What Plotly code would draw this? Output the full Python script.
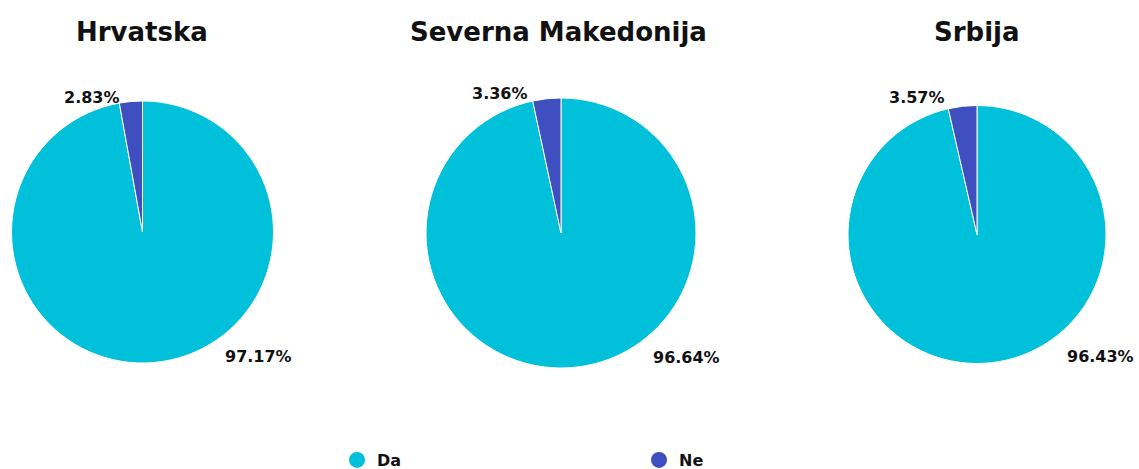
import plotly.graph_objects as go

countries = ["Hrvatska", "Severna Makedonija", "Srbija"]
labels = ["Da", "Ne"]
da_values = [97.17, 96.64, 96.43]
ne_values = [2.83, 3.36, 3.57]
colors = ["#00c0da", "#3f4fbf"]

W, H = 1139, 469
# pie geometry in pixels: (center x, center y, radius)
geoms = [(142.5, 232, 131), (561, 233, 135), (977, 234.5, 129)]
title_x = [141.5, 558, 977]
# label positions (px) for Ne (small) and Da (large)
ne_pos = [(92, 97), (500, 94), (917, 98)]
da_pos = [(258, 356), (686, 357), (1100, 356)]

FONT = "DejaVu Sans"

fig = go.Figure()
annotations = []
for i, c in enumerate(countries):
    cx, cy, r = geoms[i]
    fig.add_trace(go.Pie(
        labels=labels,
        values=[da_values[i], ne_values[i]],
        marker=dict(colors=colors, line=dict(color="white", width=1)),
        sort=False,
        direction="clockwise",
        rotation=0,
        textinfo="none",
        hoverinfo="label+percent",
        showlegend=False,
        domain=dict(x=[(cx - r) / W, (cx + r) / W], y=[(H - cy - r) / H, (H - cy + r) / H]),
    ))
    annotations.append(dict(
        text=f"<b>{c}</b>", x=title_x[i] / W, y=1 - 32 / H, xref="paper", yref="paper",
        showarrow=False, xanchor="center", yanchor="middle",
        font=dict(family=FONT, size=26, color="#111111"),
    ))
    annotations.append(dict(
        text=f"<b>{ne_values[i]:.2f}%</b>", x=ne_pos[i][0] / W, y=1 - ne_pos[i][1] / H,
        xref="paper", yref="paper", showarrow=False, xanchor="center", yanchor="middle",
        font=dict(family=FONT, size=16, color="#111111"),
    ))
    annotations.append(dict(
        text=f"<b>{da_values[i]:.2f}%</b>", x=da_pos[i][0] / W, y=1 - da_pos[i][1] / H,
        xref="paper", yref="paper", showarrow=False, xanchor="center", yanchor="middle",
        font=dict(family=FONT, size=16, color="#111111"),
    ))

for lab, col in zip(labels, colors):
    fig.add_trace(go.Scatter(
        x=[None], y=[None], mode="markers", name=lab,
        marker=dict(symbol="circle", size=16, color=col),
        showlegend=True,
    ))

fig.update_layout(
    width=W, height=H,
    margin=dict(l=0, r=0, t=0, b=0, autoexpand=False),
    paper_bgcolor="white", plot_bgcolor="white",
    annotations=annotations,
    xaxis=dict(visible=False), yaxis=dict(visible=False),
    legend=dict(
        orientation="h", x=337 / W, y=(H - 460) / H, xanchor="left", yanchor="middle",
        entrywidth=257, entrywidthmode="pixels",
        font=dict(family=FONT, size=16, color="#111111", weight="bold"),
        bgcolor="rgba(0,0,0,0)",
    ),
    showlegend=True,
)

fig.write_html("out.html")
